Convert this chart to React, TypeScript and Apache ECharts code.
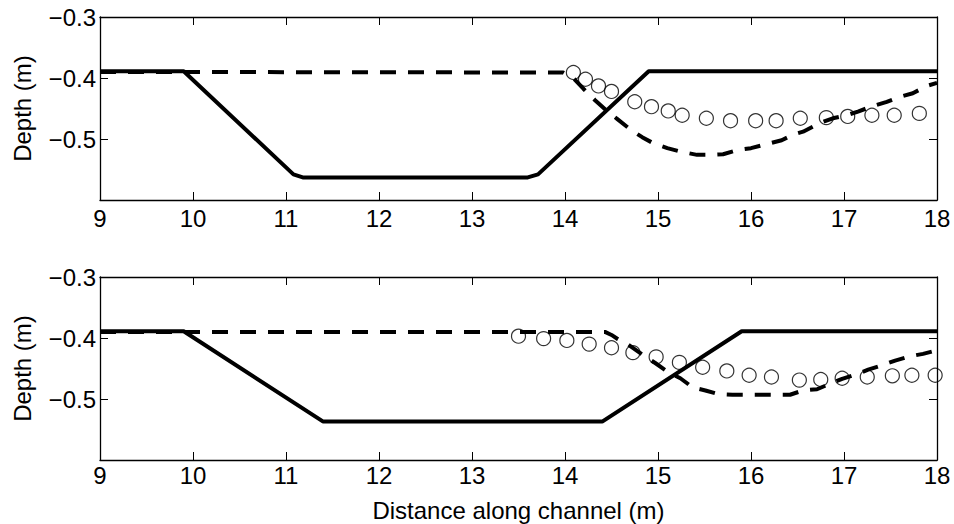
import React, { useEffect, useRef } from "react";
import * as echarts from "echarts";

// Top panel
const bedTop: [number, number][] = [
  [9, -0.389], [9.9, -0.389], [11.08, -0.558], [11.18, -0.563],
  [13.6, -0.563], [13.71, -0.558], [14.9, -0.389], [18, -0.389],
];
const surfTop: [number, number][] = [
  [9, -0.39], [13.98, -0.391], [14.1, -0.402], [14.2, -0.418], [14.32, -0.436],
  [14.45, -0.454], [14.56, -0.467], [14.7, -0.484], [14.83, -0.497], [14.95, -0.507],
  [15.1, -0.515], [15.25, -0.521], [15.42, -0.526], [15.56, -0.526], [15.7, -0.525],
  [15.86, -0.518], [16.0, -0.515], [16.15, -0.509], [16.33, -0.502], [16.45, -0.493],
  [16.56, -0.488], [16.74, -0.474], [16.88, -0.466], [17.03, -0.461], [17.15, -0.455],
  [17.31, -0.446], [17.46, -0.439], [17.6, -0.431], [17.74, -0.425], [17.89, -0.413],
  [18, -0.408],
];
const obsTopX = [14.09, 14.22, 14.36, 14.5, 14.75, 14.93, 15.11, 15.26, 15.52, 15.78, 16.05, 16.27, 16.53, 16.81, 17.04, 17.3, 17.54, 17.81];
const obsTopY = [-0.391, -0.402, -0.413, -0.422, -0.439, -0.447, -0.454, -0.461, -0.466, -0.47, -0.47, -0.47, -0.466, -0.465, -0.463, -0.461, -0.461, -0.458];

// Bottom panel
const bedBot: [number, number][] = [
  [9, -0.389], [9.9, -0.389], [11.4, -0.537], [14.4, -0.537], [15.9, -0.389], [18, -0.389],
];
const surfBot: [number, number][] = [
  [9, -0.39], [14.43, -0.39], [14.5, -0.395], [14.57, -0.402], [14.68, -0.411],
  [14.84, -0.428], [14.97, -0.441], [15.11, -0.456], [15.24, -0.466], [15.32, -0.475],
  [15.37, -0.481], [15.51, -0.486], [15.65, -0.492], [15.8, -0.493], [16.1, -0.493],
  [16.42, -0.493], [16.56, -0.486], [16.71, -0.484], [16.85, -0.475], [16.98, -0.467],
  [17.14, -0.459], [17.26, -0.452], [17.42, -0.444], [17.55, -0.437], [17.71, -0.43],
  [17.85, -0.426], [18, -0.42],
];
const obsBotX = [13.5, 13.77, 14.02, 14.26, 14.5, 14.73, 14.98, 15.23, 15.48, 15.74, 15.98, 16.22, 16.52, 16.75, 16.98, 17.25, 17.52, 17.73, 17.98];
const obsBotY = [-0.397, -0.401, -0.404, -0.41, -0.416, -0.424, -0.431, -0.44, -0.448, -0.454, -0.461, -0.464, -0.469, -0.468, -0.466, -0.464, -0.462, -0.461, -0.461];

const xTicks = { min: 9, max: 18, interval: 1 };
const yTicks = { min: -0.6, max: -0.3, interval: 0.1 };
const xName = "Distance along channel (m)";
const yName = "Depth (m)";

const FONT = "Liberation Sans, Arial, Helvetica, sans-serif";
const FS = 24;

export default function App() {
  const ref = useRef<HTMLDivElement>(null);
  useEffect(() => {
    if (!ref.current) return;
    const chart = echarts.init(ref.current, null, { renderer: "svg" });
    const axisLine = { show: true, lineStyle: { color: "#000", width: 1.3 } };
    const tick = { show: true, inside: true, length: 8, lineStyle: { color: "#000", width: 1 } };
    const yFmt = (v: number) => (v < -0.59 ? "" : "\u2212" + Math.abs(v).toFixed(1));
    const xAxis = (grid: number, bottomMargin: number, withName: boolean) => [
      {
        type: "value", gridIndex: grid, position: "bottom", ...xTicks,
        axisLine, axisTick: tick, splitLine: { show: false },
        axisLabel: { color: "#000", fontSize: FS, fontFamily: FONT, margin: bottomMargin },
        name: withName ? xName : "", nameLocation: "middle", nameGap: 38,
        nameTextStyle: { color: "#000", fontSize: FS, fontFamily: FONT },
      },
      {
        type: "value", gridIndex: grid, position: "top", ...xTicks,
        axisLine, axisTick: tick, splitLine: { show: false }, axisLabel: { show: false },
      },
    ];
    const yAxis = (grid: number) => [
      {
        type: "value", gridIndex: grid, position: "left", ...yTicks,
        axisLine, axisTick: tick, splitLine: { show: false },
        axisLabel: { color: "#000", fontSize: FS, fontFamily: FONT, margin: 4, formatter: yFmt },
        name: yName, nameLocation: "middle", nameGap: 66,
        nameTextStyle: { color: "#000", fontSize: FS, fontFamily: FONT },
      },
      {
        type: "value", gridIndex: grid, position: "right", ...yTicks,
        axisLine, axisTick: tick, splitLine: { show: false }, axisLabel: { show: false },
      },
    ];
    const lineS = (data: [number, number][], ax: number, dashed: boolean) => ({
      type: "line", xAxisIndex: ax, yAxisIndex: ax, data, showSymbol: false,
      lineStyle: { color: "#000", width: 4, type: dashed ? [16, 12] : "solid" },
      z: 2,
    });
    const scat = (xs: number[], ys: number[], ax: number) => ({
      type: "scatter", xAxisIndex: ax, yAxisIndex: ax,
      data: xs.map((x, i) => [x, ys[i]]),
      symbol: "circle", symbolSize: 14,
      itemStyle: { color: "rgba(0,0,0,0)", borderColor: "#000", borderWidth: 1.2 },
      z: 3,
    });
    chart.setOption({
      animation: false,
      backgroundColor: "#fff",
      grid: [
        { left: 100, top: 17, width: 837, height: 183 },
        { left: 100, top: 277, width: 837, height: 183 },
      ],
      xAxis: [...xAxis(0, 6, false), ...xAxis(1, 3, true)],
      yAxis: [...yAxis(0), ...yAxis(1)],
      series: [
        lineS(bedTop, 0, false),
        lineS(surfTop, 0, true),
        scat(obsTopX, obsTopY, 0),
        lineS(bedBot, 2, false),
        lineS(surfBot, 2, true),
        scat(obsBotX, obsBotY, 2),
      ],
    });
    return () => chart.dispose();
  }, []);
  return (
    <div
      ref={ref}
      style={{ position: "absolute", left: 0, top: 0, width: 954, height: 524 }}
    />
  );
}
